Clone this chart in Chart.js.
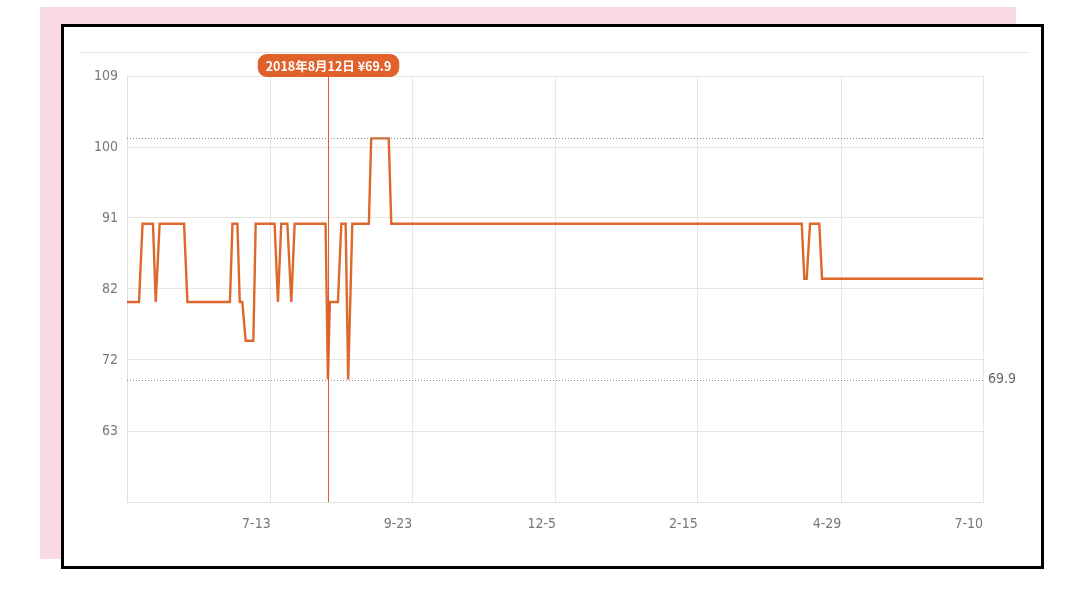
<!DOCTYPE html>
<html><head><meta charset="utf-8">
<script src="https://cdn.jsdelivr.net/npm/chart.js@4/dist/chart.umd.min.js"></script>
<style>
html,body{margin:0;padding:0;background:#fff;width:1080px;height:598px;overflow:hidden;}
#pink{position:absolute;left:40px;top:7px;width:976px;height:552px;background:#f9d9e3;}
#frame{position:absolute;left:61px;top:24px;width:977px;height:539px;border:3px solid #000;background:#fff;}
#sep{position:absolute;left:80px;top:52px;width:948px;height:1px;background:#e2e2e2;}
#c{position:absolute;left:0;top:0;}
</style></head>
<body>
<div id="pink"></div>
<div id="frame"></div>
<div id="sep"></div>
<canvas id="c" width="1080" height="598"></canvas>
<script>
// X axis: days since 2018-05-01
const xTickDays = [73, 145, 218, 290, 363, 435];
const xTickLabels = ['7-13', '9-23', '12-5', '2-15', '4-29', '7-10'];
const yTickLabels = ['', '63', '72', '82', '91', '100', '109'];
const yMin = 54.1;
const yMax = 109.05;
const xMin = 0;
const xMax = 435;

const priceDays = [0, 6.1, 7.9, 13.2, 14.6, 16.6, 29.0, 30.7, 52.3, 53.6, 56.1, 57.3, 58.6, 60.3, 64.2, 65.4,
  75.0, 76.7, 78.4, 81.5, 83.5, 85.2, 100.9, 102.1, 103.1, 107.2, 108.9, 111.1, 112.4, 114.5, 122.9,
  124.1, 133.0, 134.3, 342.9, 344.2, 345.4, 347.1, 351.8, 353.2, 435];
const priceValues = [79.9, 79.9, 90, 90, 79.9, 90, 90, 79.9, 79.9, 90, 90, 79.9, 79.9, 74.9, 74.9, 90,
  90, 79.9, 90, 90, 79.9, 90, 90, 69.9, 79.9, 79.9, 90, 90, 69.9, 90, 90,
  101, 101, 90, 90, 82.9, 82.9, 90, 90, 82.9, 82.9];

const maxPrice = 101;
const minPrice = 69.9;
const markedIndex = 23;
const markedDateText = '2018年8月12日';

const labelFont = {family: '"Liberation Sans Narrow", "DejaVu Sans Condensed", "Noto Sans", sans-serif', size: 14};

const refPlugin = {
  id: 'ref',
  afterDatasetsDraw(chart) {
    const {ctx, chartArea: a, scales: {x, y}} = chart;
    ctx.save();
    ctx.strokeStyle = '#8c8c8c';
    ctx.lineWidth = 1;
    ctx.setLineDash([1, 2]);
    [maxPrice, minPrice].forEach(v => {
      const py = Math.round(y.getPixelForValue(v)) + 0.5;
      ctx.beginPath(); ctx.moveTo(a.left, py); ctx.lineTo(a.right, py); ctx.stroke();
    });
    ctx.setLineDash([]);
    ctx.fillStyle = '#666';
    ctx.font = '14px ' + labelFont.family;
    ctx.textBaseline = 'middle';
    ctx.textAlign = 'left';
    ctx.fillText(String(minPrice), a.right + 5, y.getPixelForValue(minPrice));

    const px = Math.round(x.getPixelForValue(priceDays[markedIndex])) + 0.5;
    ctx.strokeStyle = '#e5582c';
    ctx.lineWidth = 1;
    ctx.beginPath(); ctx.moveTo(px, a.top); ctx.lineTo(px, a.bottom); ctx.stroke();

    const text = markedDateText + ' ¥' + priceValues[markedIndex];
    ctx.font = 'bold 12.5px "Noto Sans CJK SC", sans-serif';
    const w = ctx.measureText(text).width + 16;
    const h = 23;
    const bx = px - w / 2, by = a.top - h + 1;
    ctx.fillStyle = '#e1612b';
    ctx.beginPath(); ctx.roundRect(bx, by, w, h, 9); ctx.fill();
    ctx.fillStyle = '#fff';
    ctx.textAlign = 'center';
    ctx.fillText(text, px, by + h / 2 + 1);
    ctx.restore();
  }
};

new Chart(document.getElementById('c'), {
  type: 'line',
  data: {
    datasets: [{
      data: priceDays.map((d, i) => ({x: d, y: priceValues[i]})),
      borderColor: '#de682c',
      borderWidth: 2.4,
      pointRadius: 0,
      tension: 0,
      fill: false
    }]
  },
  options: {
    responsive: false,
    animation: false,
    events: [],
    layout: {padding: {left: 0, top: 76, right: 97, bottom: 0}},
    plugins: {legend: {display: false}, tooltip: {enabled: false}},
    scales: {
      x: {
        type: 'linear', min: xMin, max: xMax,
        afterBuildTicks: s => { s.ticks = xTickDays.map(v => ({value: v})); },
        afterFit: s => { s.height = 96; },
        ticks: {callback: (v, i) => xTickLabels[i], align: 'end', padding: 14, color: '#777', font: labelFont, maxRotation: 0, autoSkip: false},
        grid: {color: '#e6e6e6', drawTicks: false},
        border: {color: '#e0e0e0'}
      },
      y: {
        type: 'linear', min: yMin, max: yMax,
        afterBuildTicks: s => { s.ticks = yTickLabels.map((_, i) => ({value: yMin + i * (yMax - yMin) / (yTickLabels.length - 1)})); },
        afterFit: s => { s.width = 127; },
        ticks: {callback: (v, i) => yTickLabels[i], padding: 9, color: '#777', font: labelFont, autoSkip: false},
        grid: {color: '#e6e6e6', drawTicks: false},
        border: {color: '#e0e0e0'}
      }
    }
  },
  plugins: [refPlugin]
});
</script>
</body></html>
